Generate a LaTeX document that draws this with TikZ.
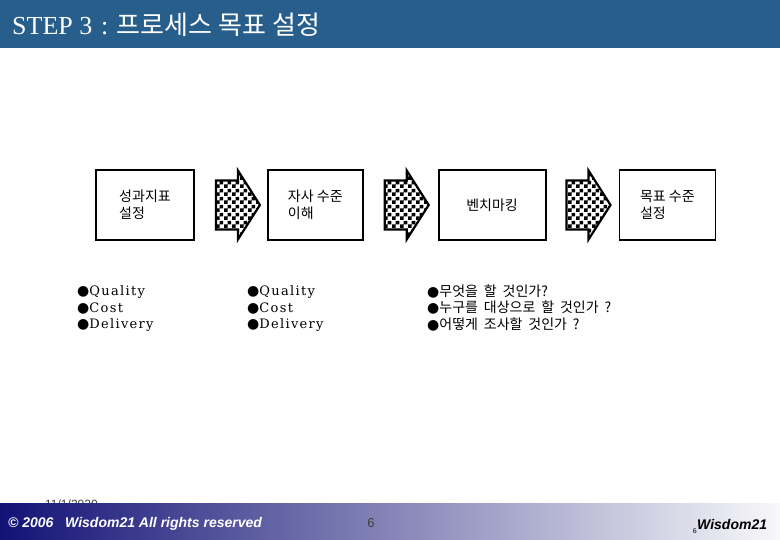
\documentclass[tikz,border=0pt]{standalone}
\usepackage{fontspec}
\setmainfont{Liberation Serif}
\setsansfont{Liberation Sans}
\newfontfamily\kr{Noto Sans CJK KR}
\newfontfamily\lat[LetterSpace=10]{DejaVu Serif}
\newfontfamily\sym{DejaVu Sans}
\usetikzlibrary{positioning,patterns}

\pgfdeclarepatternformonly{checker}{\pgfpointorigin}{\pgfqpoint{8pt}{8pt}}{\pgfqpoint{8pt}{8pt}}{%
  \pgfpathrectangle{\pgfpointorigin}{\pgfqpoint{4pt}{4pt}}%
  \pgfpathrectangle{\pgfqpoint{4pt}{4pt}}{\pgfqpoint{4pt}{4pt}}%
  \pgfusepath{fill}}

\definecolor{titlebar}{RGB}{39,94,140}
\definecolor{navy}{RGB}{18,18,118}
\definecolor{midnavy}{RGB}{165,165,200}
\definecolor{paleend}{RGB}{248,248,250}

\newcommand{\bul}{{\sym\fontsize{14}{14}\selectfont ●}}
\newcommand{\widesp}{\spaceskip=0.42em\relax}

\tikzset{pics/chkarrow/.style={code={
    \draw[line width=2.2pt, pattern=checker, line join=miter]
      (0,-24.5) -- (22,-24.5) -- (22,-34.5) -- (44,0) -- (22,34.5) -- (22,24.5) -- (0,24.5) -- cycle;
}}}

\begin{document}
\begin{tikzpicture}[x=1pt, y=-1pt, every node/.style={inner sep=0pt},
    box/.style={rectangle, draw, line width=1.8pt, minimum height=70pt, align=left, font=\kr\fontsize{14}{17}\selectfont},
    items/.style={align=left, anchor=west, font=\fontsize{13}{16.5}\selectfont}]
    \useasboundingbox (0,0) rectangle (780,540);

    % title bar
    \fill[titlebar] (0,0) rectangle (780,48);
    \node[anchor=west, text=white, font=\fontsize{26}{26}\selectfont] (title) at (12,25) {STEP 3\,\,:\,\,{\kr 프로세스 목표 설정}};

    % process steps
    \node[box, minimum width=98pt] (goal) at (145,205) {성과지표\\설정};
    \coordinate[right=21pt of goal] (a1);
    \pic at (a1) {chkarrow};
    \node[box, minimum width=95pt, right=51pt of a1] (level) {자사 수준\\이해};
    \coordinate[right=21pt of level] (a2);
    \pic at (a2) {chkarrow};
    \node[box, minimum width=107pt, right=53pt of a2] (bench) {벤치마킹};
    \coordinate[right=20pt of bench] (a3);
    \pic at (a3) {chkarrow};
    \node[box, minimum width=96pt, right=52pt of a3] (target) {목표 수준\\설정};

    % item lists
    \node[items] (qcd1) at (77,309) {\bul{\lat Quality}\\\bul{\lat Cost}\\\bul{\lat Delivery}};
    \node[items] (qcd2) at (247,309) {\bul{\lat Quality}\\\bul{\lat Cost}\\\bul{\lat Delivery}};
    \node[items, font=\kr\fontsize{14}{16.5}\selectfont\widesp] (ask) at (427,308) {\bul 무엇을 할 것인가?\\\bul 누구를 대상으로 할 것인가 ?\\\bul 어떻게 조사할 것인가 ?};

    % footer
    \node[anchor=base west, font=\sffamily\fontsize{12}{12}\selectfont, text=black!75] (date) at (45,508) {11/1/2020};
    \shade[left color=navy, middle color=midnavy, right color=paleend] (0,503) rectangle (780,540);
    \node[anchor=west, text=white, font=\sffamily\bfseries\itshape\fontsize{14}{14}\selectfont] (copy) at (8,524) {© 2006\ \ \ Wisdom21 All rights reserved};
    \node[font=\sffamily\fontsize{13}{13}\selectfont, text=black!75] (page) at (371,523) {6};
    \node[anchor=west, font=\sffamily\bfseries\itshape\fontsize{14}{14}\selectfont] (brand) at (697,524) {Wisdom21};
    \node[anchor=base east, font=\sffamily\fontsize{7}{7}\selectfont] (pgno) at (697,533) {6};
\end{tikzpicture}
\end{document}
